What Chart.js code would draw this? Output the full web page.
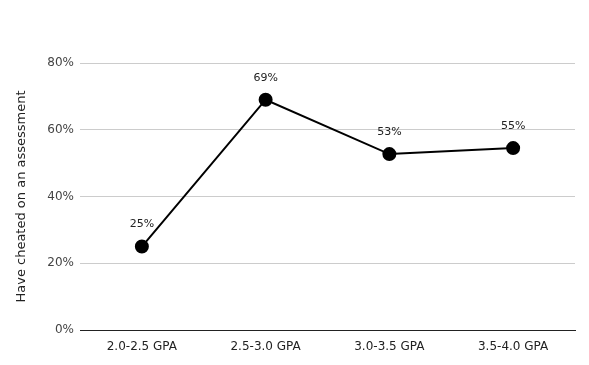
<!DOCTYPE html>
<html>
<head>
<meta charset="utf-8">
<style>
  html, body { margin: 0; padding: 0; background: #fff; }
  #wrap { width: 589px; height: 365px; }
</style>
<script src="https://cdn.jsdelivr.net/npm/chart.js@4/dist/chart.umd.min.js"></script>
</head>
<body>
<div id="wrap"><canvas id="gpa-chart" width="589" height="365"></canvas></div>
<script>
// Дані
const gpaBands = ["2.0-2.5 GPA", "2.5-3.0 GPA", "3.0-3.5 GPA", "3.5-4.0 GPA"];
const cheatedPct = [25, 69, 52.7, 54.5];
const yTicks = [0, 20, 40, 60, 80];

const font = "'DejaVu Sans', Verdana, sans-serif";

// підписи над точками
const pointLabels = {
  id: "pointLabels",
  afterDatasetsDraw(chart) {
    const ctx = chart.ctx;
    const meta = chart.getDatasetMeta(0);
    ctx.save();
    ctx.font = "11px " + font;
    ctx.fillStyle = "#222";
    ctx.textAlign = "center";
    ctx.textBaseline = "middle";
    meta.data.forEach((pt, i) => {
      ctx.fillText(Math.round(cheatedPct[i]) + "%", pt.x, pt.y - 22);
    });
    ctx.restore();
  },
};

const config = {
  type: "line",
  data: {
    labels: gpaBands,
    datasets: [
      {
        data: cheatedPct,
        borderColor: "#000",
        backgroundColor: "#000",
        borderWidth: 2,
        pointRadius: 6,
        pointHoverRadius: 6,
        tension: 0,
      },
    ],
  },
  options: {
    responsive: false,
    animation: false,
    layout: { padding: { top: 63, right: 14, left: 0, bottom: 0 } },
    plugins: {
      legend: { display: false },
      tooltip: { enabled: false },
    },
    scales: {
      x: {
        offset: true,
        grid: { display: false },
        border: { display: true, color: "#222", width: 1 },
        ticks: { color: "#222", font: { family: font, size: 12 }, padding: 2 },
        afterFit(scale) { scale.height = 35; },
      },
      y: {
        min: 0,
        max: 80,
        afterBuildTicks(scale) {
          scale.ticks = yTicks.map((v) => ({ value: v }));
        },
        border: { display: false },
        grid: {
          color: (c) => (c.tick && c.tick.value === 0 ? "#222" : "#ccc"),
          drawTicks: false,
        },
        ticks: {
          color: "#444",
          font: { family: font, size: 12 },
          padding: 6,
          callback: (v) => v + "%",
        },
        title: {
          display: true,
          text: "Have cheated on an assessment",
          color: "#222",
          font: { family: font, size: 13 },
          padding: { top: 14, bottom: 0 },
        },
        afterFit(scale) { scale.width = 80; },
      },
    },
  },
  plugins: [pointLabels],
};

const ctx = document.getElementById("gpa-chart");
const gpaChart = new Chart(ctx, config);
</script>
</body>
</html>
